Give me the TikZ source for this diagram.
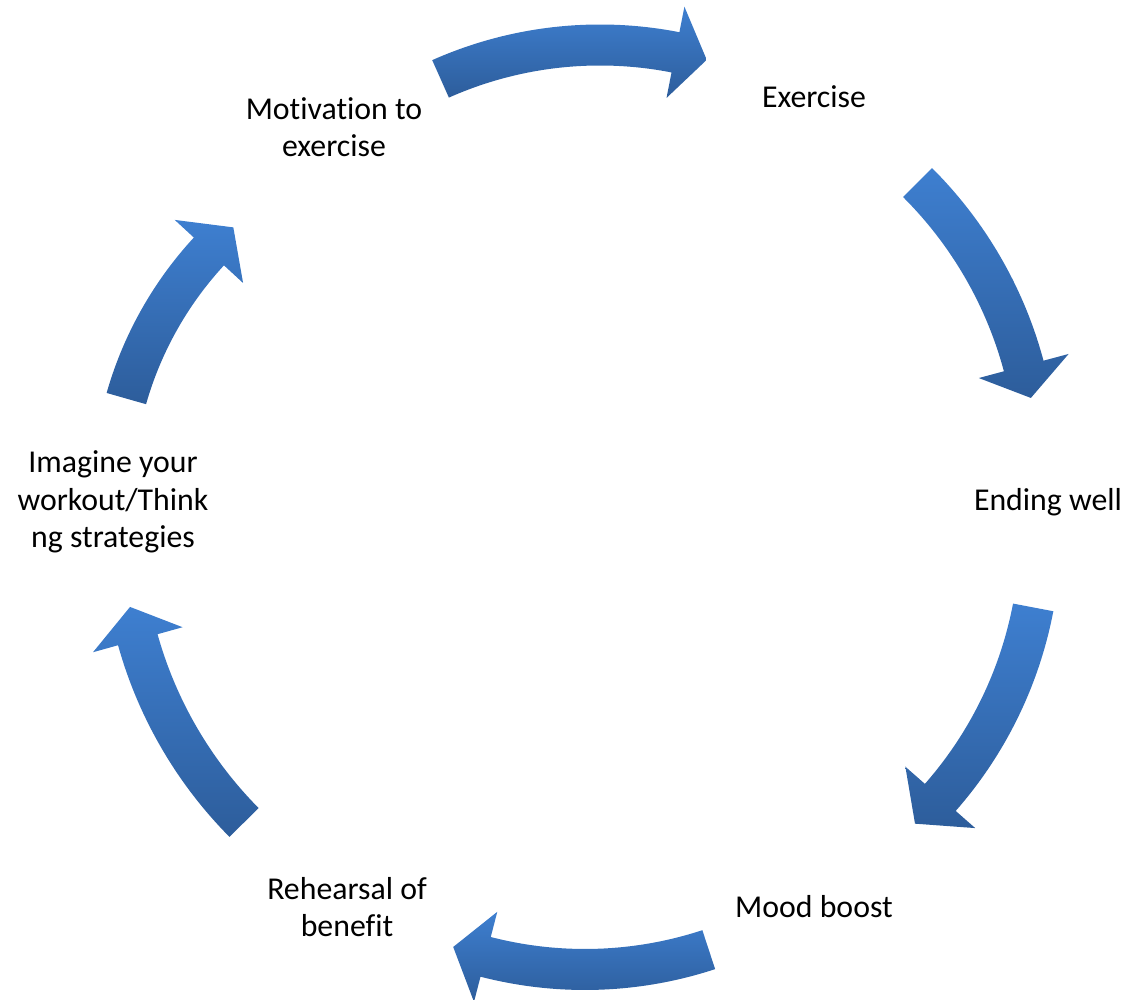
\documentclass[tikz,border=0pt]{standalone}
\usepackage{fontspec}
\setmainfont[Ligatures=NoCommon]{Carlito}
\usepackage{tikz}
\usetikzlibrary{math}

\definecolor{arrowtop}{RGB}{62,127,208}
\definecolor{arrowbottom}{RGB}{45,93,155}

\begin{document}
\begin{tikzpicture}[x=0.02cm, y=0.02cm,
    cycletext/.style={align=center, inner sep=0pt, font=\fontsize{18.1}{21.2}\selectfont},
    cyclearrow/.style={top color=arrowtop, bottom color=arrowbottom, draw=none}]

      \useasboundingbox (0, 0) rectangle (1126, 1000);

      % steps of the cycle
      \node[cycletext] (motivation) at (334, 873) {Motivation to\\exercise};
      \node[cycletext] (exercise) at (814, 903) {Exercise};
      \node[cycletext] (ending) at (1048, 498) {Ending well};
      \node[cycletext] (mood) at (814, 93) {Mood boost};
      \node[cycletext] (rehearsal) at (347, 93) {Rehearsal of\\benefit};
      \node[cycletext] (imagine) at (113, 498) {Imagine your\\workout/Think\\ng strategies};

      % curved block arrows: centre x/y, radius, tail angle, head angle, tip angle
      \foreach \cx/\cy/\r/\a/\b/\c in {600/563/392/114/78.9/74.2,
                                       629.6/528.4/408/45.1/15/10.4,
                                       638.3/467.9/402/-10.8/-41.3/-46.5,
                                       584.9/427/396.5/-71.8/-104.5/-109.4,
                                       542.3/473.2/420/224.75/195.6/191,
                                       476.4/501.7/364/164.1/137.3/131.9} {
        \pgfmathsetmacro{\ro}{\r+20.5}
        \pgfmathsetmacro{\ri}{\r-20.5}
        \pgfmathsetmacro{\bo}{\r+46.5}
        \pgfmathsetmacro{\bi}{\r-46.5}
        \shade[cyclearrow, shift={(\cx,\cy)}] (\a:\ro) arc[start angle=\a, end angle=\b, radius=\ro]
          -- (\b:\bo) -- (\c:\r) -- (\b:\bi) -- (\b:\ri)
          arc[start angle=\b, end angle=\a, radius=\ri] -- cycle;
      }

    \end{tikzpicture}
\end{document}
